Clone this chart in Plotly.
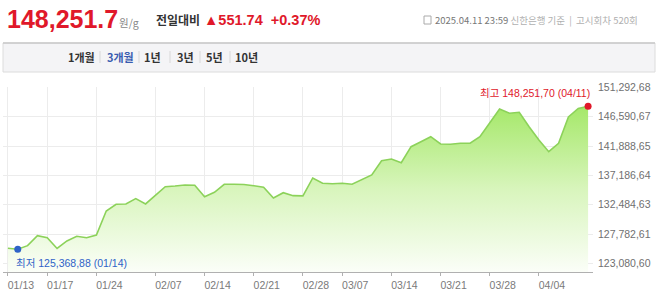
import plotly.graph_objects as go

# ---------------- data ----------------
dates = ["01/13","01/14","01/15","01/16","01/17","01/20","01/21","01/22","01/23","01/24",
         "01/31","02/03","02/04","02/05","02/06","02/07","02/10","02/11","02/12","02/13",
         "02/14","02/17","02/18","02/19","02/20","02/21","02/24","02/25","02/26","02/27",
         "02/28","03/04","03/05","03/06","03/07","03/10","03/11","03/12","03/13","03/14",
         "03/17","03/18","03/19","03/20","03/21","03/24","03/25","03/26","03/27","03/28",
         "03/31","04/01","04/02","04/03","04/04","04/07","04/08","04/09","04/10","04/11"]
prices = [125516, 125368.88, 125933, 127534, 127214, 125480, 126686, 127438, 127214, 127646,
          131489, 132561, 132609, 133458, 132609, 133938, 135379, 135491, 135651, 135603,
          133778, 134482, 135763, 135763, 135720, 135539, 135283, 133570, 134418, 133938,
          133900, 136772, 135923, 135859, 135923, 135763, 136452, 137252, 139542, 139814,
          139221, 141783, 142584, 143384, 142215, 142167, 142327, 142350, 143384, 145689,
          147819, 147130, 147290, 144985, 142856, 140983, 142327, 146538, 147899, 148251.70]
x_tick_dates = ["01/13","01/17","01/24","02/07","02/14","02/21","02/28","03/07","03/14","03/21","03/28","04/04"]
y_tick_vals = [123080.60, 127782.61, 132484.63, 137186.64, 141888.65, 146590.67, 151292.68]
y_tick_text = ["123,080,60","127,782,61","132,484,63","137,186,64","141,888,65","146,590,67","151,292,68"]
max_label = "최고 148,251,70 (04/11)"
min_label = "최저 125,368,88 (01/14)"
periods = ["1개월", "3개월", "1년", "3년", "5년", "10년"]
selected_period = "3개월"

# ---------------- layout geometry ----------------
W, H = 658, 304
L, R, T, B = 3, 65, 87, 32
PW, PH = W - L - R, H - T - B
def px(p):
    return (p - L) / PW
def py(p):
    return (H - B - p) / PH

FONT = "Liberation Sans, Arial, Noto Sans CJK KR, sans-serif"
KFONT = "Noto Sans CJK KR, Liberation Sans, sans-serif"
RED = "#e0182a"
BLUE = "#2f63c8"

ymin, ymax = 121716, 151340
imax = prices.index(max(prices))
imin = prices.index(min(prices))

fig = go.Figure()
fig.add_trace(go.Scatter(
    x=dates, y=prices, mode="lines",
    line=dict(color="#8cd25a", width=1.6),
    fill="tozeroy",
    fillgradient=dict(type="vertical",
                      colorscale=[[0, "rgb(251,254,248)"], [0.5, "rgb(216,245,188)"], [1, "rgb(165,232,105)"]],
                      start=ymin, stop=prices[imax]),
    hoverinfo="skip", showlegend=False))
fig.add_trace(go.Scatter(x=[dates[-1]], y=[prices[-1]], mode="markers",
                         marker=dict(color=RED, size=7), showlegend=False, hoverinfo="skip"))
fig.add_trace(go.Scatter(x=[dates[imin]], y=[prices[imin]], mode="markers",
                         marker=dict(color=BLUE, size=7), showlegend=False, hoverinfo="skip"))

annotations = [
    dict(x=dates[-1], y=prices[-1], xref="x", yref="y", text=max_label, showarrow=False,
         xanchor="right", yanchor="bottom", yshift=5, xshift=4,
         font=dict(family=FONT, size=10.5, color=RED)),
    dict(x=dates[imin], y=prices[imin], xref="x", yref="y", text=min_label, showarrow=False,
         xanchor="left", yanchor="top", yshift=-6, xshift=-4,
         font=dict(family=FONT, size=10.5, color=BLUE)),
    # header
    dict(x=px(5), y=py(19), xref="paper", yref="paper", xanchor="left", yanchor="middle",
         text="<b>148,251.7</b>", showarrow=False, font=dict(family=FONT, size=25, color=RED)),
    dict(x=px(117), y=py(22), xref="paper", yref="paper", xanchor="left", yanchor="middle",
         text="원/g", showarrow=False, font=dict(family=KFONT, size=10.5, color="#888")),
    dict(x=px(154), y=py(20), xref="paper", yref="paper", xanchor="left", yanchor="middle",
         text="<b>전일대비</b>", showarrow=False, font=dict(family=KFONT, size=12, color="#333")),
    dict(x=px(202), y=py(20), xref="paper", yref="paper", xanchor="left", yanchor="middle",
         text="<b>▲551.74  +0.37%</b>", showarrow=False, font=dict(family=FONT, size=14.5, color=RED)),
    dict(x=px(433), y=py(20), xref="paper", yref="paper", xanchor="left", yanchor="middle",
         text="2025.04.11 23:59 <span style='color:#b0b0b0'>신한은행 기준  |  고시회차 520회</span>",
         showarrow=False, font=dict(family=KFONT, size=9.5, color="#777")),
]

shapes = [
    dict(type="rect", xref="paper", yref="paper", x0=px(3), x1=px(655), y0=py(72), y1=py(43),
         fillcolor="#f4f4f6", line=dict(color="#dcdcdc", width=1), layer="below"),
    dict(type="line", xref="paper", yref="paper", x0=px(3), x1=px(655), y0=py(43), y1=py(43),
         line=dict(color="#c8c8c8", width=1.5)),
    # calendar icon
    dict(type="rect", xref="paper", yref="paper", x0=px(424), x1=px(431), y0=py(24), y1=py(16),
         line=dict(color="#aaa", width=1), fillcolor="rgba(0,0,0,0)"),
]
btn_x = [81, 120, 152, 185, 214, 247]
sep_x = [100, 139, 170, 200, 230]
for name, bx in zip(periods, btn_x):
    annotations.append(dict(x=px(bx), y=py(57), xref="paper", yref="paper", xanchor="center",
                            yanchor="middle", text=f"<b>{name}</b>", showarrow=False,
                            font=dict(family=KFONT, size=11,
                                      color="#3a5cb0" if name == selected_period else "#333")))
for sx in sep_x:
    shapes.append(dict(type="line", xref="paper", yref="paper", x0=px(sx), x1=px(sx),
                       y0=py(63), y1=py(51), line=dict(color="#d8d8d8", width=1)))

fig.update_layout(
    width=W, height=H, margin=dict(l=L, r=R, t=T, b=B),
    paper_bgcolor="white", plot_bgcolor="white",
    annotations=annotations, shapes=shapes, showlegend=False,
    xaxis=dict(type="category", categoryorder="array", categoryarray=dates,
               range=[-0.5, len(dates) - 0.5],
               tickmode="array", tickvals=x_tick_dates, ticktext=x_tick_dates,
               showgrid=True, gridcolor="#ececec", gridwidth=1,
               showline=True, linecolor="#b0b0b0", linewidth=1,
               ticks="outside", ticklen=3, tickcolor="#b0b0b0", ticklabelshift=13,
               tickfont=dict(family=FONT, size=10.5, color="#7a7a7a"), fixedrange=True),
    yaxis=dict(range=[ymin, ymax], side="right", tickmode="array",
               tickvals=y_tick_vals, ticktext=y_tick_text,
               showgrid=True, gridcolor="#ececec", gridwidth=1, zeroline=False,
               showline=False, ticks="", ticklabelstandoff=4,
               tickfont=dict(family=FONT, size=10.5, color="#707070"), fixedrange=True),
)

fig.write_html("out.html")
